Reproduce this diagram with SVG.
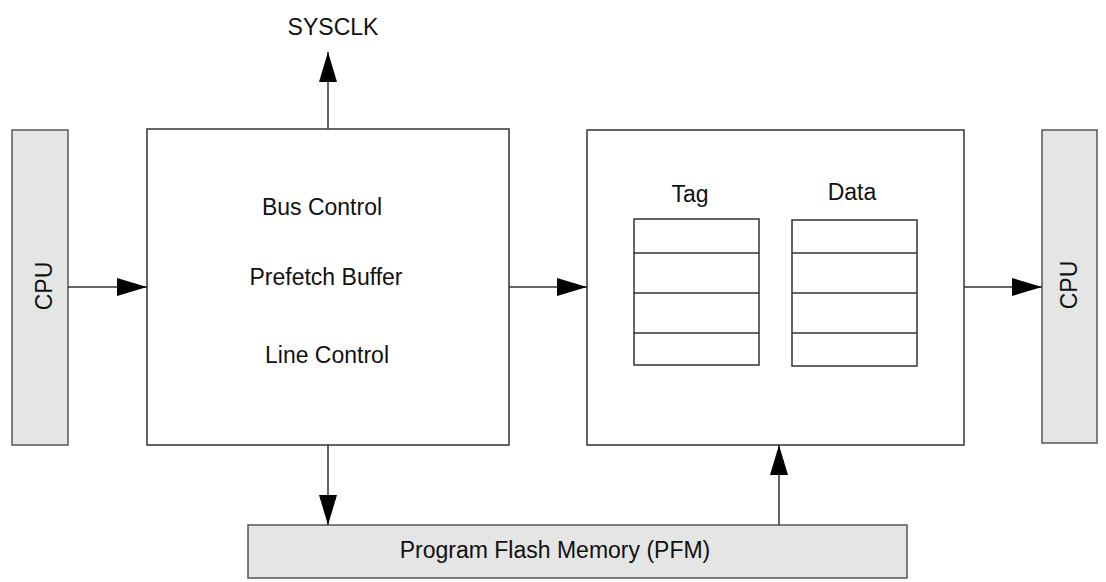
<svg xmlns="http://www.w3.org/2000/svg" width="1106" height="582" viewBox="0 0 1106 582">
  <defs>
    <marker id="arrow" markerWidth="30" markerHeight="18" refX="30" refY="9" orient="auto" markerUnits="userSpaceOnUse">
      <path d="M0,0 L30,9 L0,18 Z" fill="#000"/>
    </marker>
    <style>
      .box { fill: #fff; stroke: #333; stroke-width: 1.5; }
      .gray { fill: #e5e5e5; stroke: #555; stroke-width: 1.5; }
      .cell { fill: #fff; stroke: #333; stroke-width: 1.5; }
      .row { stroke: #333; stroke-width: 1.5; }
      .lbl { font-family: "Liberation Sans", Arial, sans-serif; font-size: 23px; fill: #111; text-anchor: middle; }
      .wire { stroke: #333; stroke-width: 1.5; fill: none; marker-end: url(#arrow); }
    </style>
  </defs>
  <rect width="1106" height="582" fill="#fff"/>

  <g id="cpu-in">
    <rect class="gray" x="12" y="130" width="56" height="315"/>
    <text class="lbl" transform="translate(52,286) rotate(-90)">CPU</text>
  </g>

  <g id="controller">
    <rect class="box" x="147" y="129" width="362" height="316"/>
    <text class="lbl" x="322" y="215">Bus Control</text>
    <text class="lbl" x="326" y="285">Prefetch Buffer</text>
    <text class="lbl" x="327" y="363">Line Control</text>
  </g>

  <g id="sysclk">
    <text class="lbl" x="333" y="35">SYSCLK</text>
  </g>

  <g id="cache">
    <rect class="box" x="587" y="130" width="377" height="315"/>
    <text class="lbl" x="690" y="202">Tag</text>
    <text class="lbl" x="852" y="200">Data</text>
    <g id="tag-array">
      <rect class="cell" x="634" y="219" width="125" height="146"/>
      <line class="row" x1="634" y1="253" x2="759" y2="253"/>
      <line class="row" x1="634" y1="293" x2="759" y2="293"/>
      <line class="row" x1="634" y1="333" x2="759" y2="333"/>
    </g>
    <g id="data-array">
      <rect class="cell" x="792" y="220" width="125" height="146"/>
      <line class="row" x1="792" y1="253" x2="917" y2="253"/>
      <line class="row" x1="792" y1="293" x2="917" y2="293"/>
      <line class="row" x1="792" y1="333" x2="917" y2="333"/>
    </g>
  </g>

  <g id="cpu-out">
    <rect class="gray" x="1042" y="130" width="55" height="313"/>
    <text class="lbl" transform="translate(1077,285) rotate(-90)">CPU</text>
  </g>

  <g id="pfm">
    <rect class="gray" x="248" y="525" width="659" height="53"/>
    <text class="lbl" x="555" y="558">Program Flash Memory (PFM)</text>
  </g>

  <g id="connectors">
    <line class="wire" x1="68" y1="287" x2="147" y2="287"/>
    <line class="wire" x1="509" y1="287" x2="587" y2="287"/>
    <line class="wire" x1="964" y1="287" x2="1042" y2="287"/>
    <line class="wire" x1="328" y1="129" x2="328" y2="52"/>
    <line class="wire" x1="328" y1="445" x2="328" y2="525"/>
    <line class="wire" x1="779" y1="525" x2="779" y2="445"/>
  </g>
</svg>
